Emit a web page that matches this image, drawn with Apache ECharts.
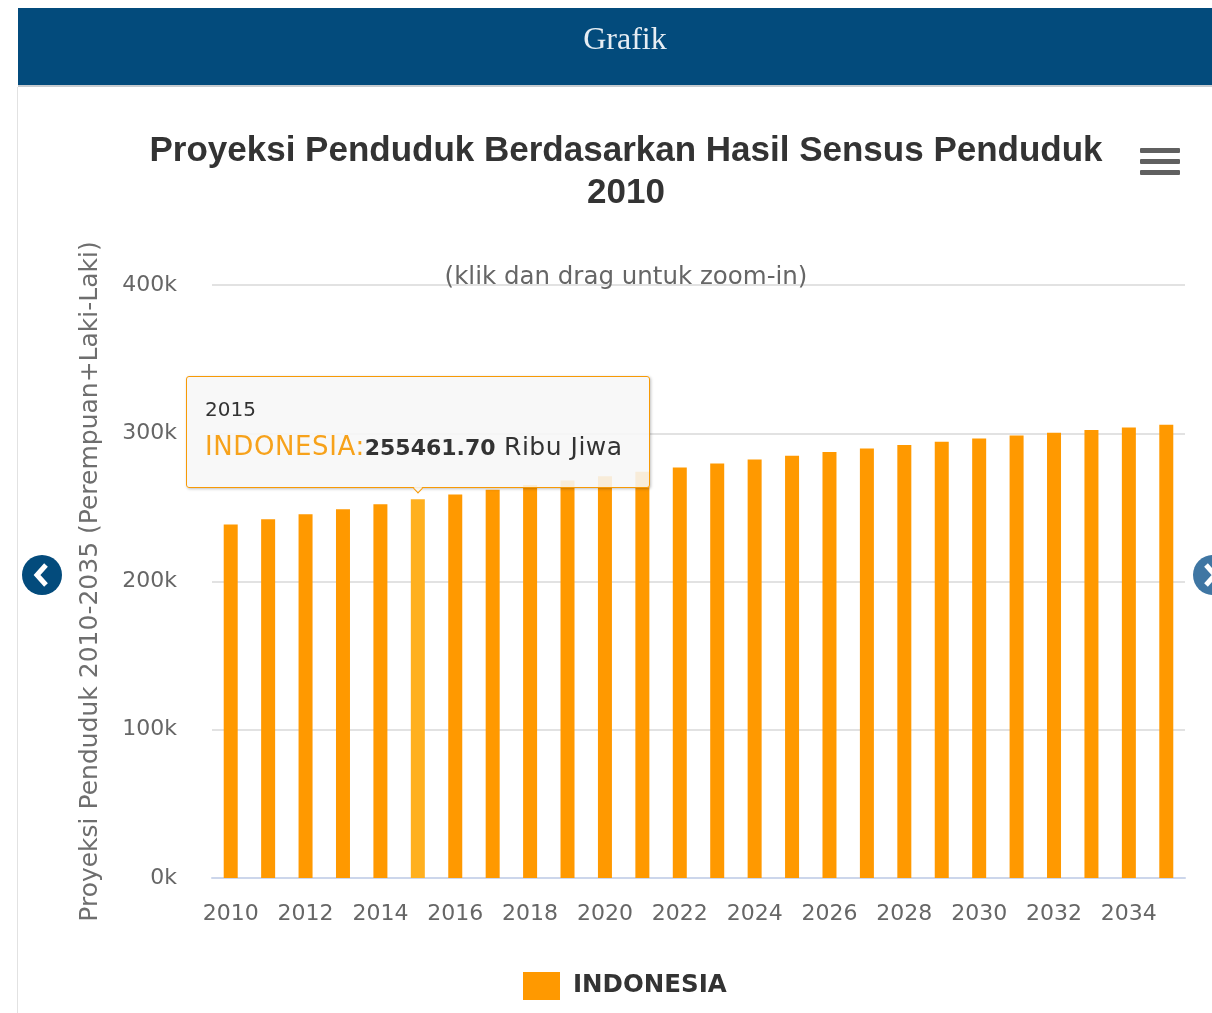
<!DOCTYPE html>
<html>
<head>
<meta charset="utf-8">
<script src="https://cdn.jsdelivr.net/npm/echarts@6/dist/echarts.min.js"></script>
<style>
html,body{margin:0;padding:0;background:#fff;}
#chart{width:1212px;height:1013px;position:relative;}
</style>
</head>
<body>
<div id="chart"></div>
<script>
var years = ['2010','2011','2012','2013','2014','2015','2016','2017','2018','2019','2020','2021','2022','2023','2024','2025','2026','2027','2028','2029','2030','2031','2032','2033','2034','2035'];
var indonesia = [238519,241991,245425,248818,252165,255461.70,258705,261891,265015,268075,271066,273984,276827,279591,282272,284829,287330,289733,292046,294276,296405,298425,300334,302138,303839,305652];
var yTicks = [0,100000,200000,300000,400000];
var seriesName = 'INDONESIA';
var unit = 'Ribu Jiwa';
var titleText = 'Proyeksi Penduduk Berdasarkan Hasil Sensus Penduduk\n2010';
var subtitleText = '(klik dan drag untuk zoom-in)';
var yName = 'Proyeksi Penduduk 2010-2035 (Perempuan+Laki-Laki)';
var headerText = 'Grafik';
var shownYear = '2015';

var chart = echarts.init(document.getElementById('chart'), null, {renderer:'canvas'});
var FONT = '"DejaVu Sans", sans-serif';
var option = {
  animation: false,
  backgroundColor: '#ffffff',
  title: [
    {text: titleText, left: 621, top: 125, textAlign: 'center',
     textStyle: {fontFamily: '"Liberation Sans", Arial, sans-serif', fontSize: 35, fontWeight: 'bold', color: '#333333', lineHeight: 42}},
    {text: subtitleText, left: 621, top: 260, textAlign: 'center',
     textStyle: {fontFamily: FONT, fontSize: 24.5, fontWeight: 'normal', color: '#666666'}}
  ],
  grid: {left: 212, right: 27, top: 285, bottom: 135, containLabel: false},
  legend: {
    data: [seriesName], left: 518, top: 967, icon: 'rect', itemWidth: 37, itemHeight: 28, itemGap: 10,
    textStyle: {fontFamily: FONT, fontSize: 24.5, fontWeight: 'bold', color: '#333333', padding: [0,0,0,8]}
  },
  tooltip: {
    trigger: 'item', triggerOn: 'none', alwaysShowContent: true, showDelay: 0, hideDelay: 0,
    transitionDuration: 0, position: 'top',
    backgroundColor: 'rgba(247,247,247,0.88)', borderColor: '#f79a06', borderWidth: 1.5, borderRadius: 3,
    padding: [18, 0, 17, 18],
    extraCssText: 'box-shadow:1px 1px 3px rgba(0,0,0,0.25);',
    formatter: function (p) {
      var v = p.value.toFixed(2);
      return '<div style="width:444px;font-family:DejaVu Sans,sans-serif;color:#333;">' +
        '<div style="font-size:20px;line-height:28px;">' + p.name + '</div>' +
        '<div style="line-height:40px;margin-top:3px;white-space:nowrap;">' +
        '<span style="color:#f7a21b;font-size:26px;letter-spacing:0.6px;">' + p.seriesName + ':</span>' +
        '<b style="font-size:22px;">' + v + '</b><span style="font-size:25px;letter-spacing:0.5px;"> ' + unit + '</span></div></div>';
    }
  },
  xAxis: {
    type: 'category', data: years, boundaryGap: true,
    axisLine: {lineStyle: {color: '#ccd6eb', width: 2}},
    axisTick: {alignWithLabel: true, interval: 1, length: 20, lineStyle: {color: '#ccd6eb', width: 1.5}},
    axisLabel: {interval: 1, margin: 25, fontFamily: FONT, fontSize: 22, color: '#666666'}
  },
  yAxis: {
    type: 'value', min: 0, max: 400000, interval: 100000,
    name: yName, nameLocation: 'middle', nameGap: 109, nameRotate: 90,
    nameTextStyle: {fontFamily: FONT, fontSize: 25, color: '#6e6e6e'},
    axisLine: {show: false}, axisTick: {show: false},
    axisLabel: {margin: 35, fontFamily: FONT, fontSize: 22, color: '#666666',
      formatter: function (v) { return (v / 1000) + 'k'; }},
    splitLine: {lineStyle: {color: '#d8d8d8', width: 1.5}}
  },
  series: [{
    name: seriesName, type: 'bar', data: indonesia, barWidth: 14,
    itemStyle: {color: '#ff9900'},
    emphasis: {itemStyle: {color: '#ffb01f'}}
  }],
  graphic: [
    {type: 'rect', shape: {x: 18, y: 8, width: 1194, height: 77}, style: {fill: '#034b7c'}, z: 100},
    {type: 'rect', shape: {x: 18, y: 85, width: 1194, height: 2}, style: {fill: '#c8ccd0'}, z: 100},
    {type: 'rect', shape: {x: 17, y: 87, width: 1, height: 926}, style: {fill: '#e2e2e2'}, z: 100},
    {type: 'text', x: 625, y: 41, style: {text: headerText, font: '32px "Liberation Serif", serif', fill: '#e6edf3',
      align: 'center', verticalAlign: 'middle', textAlign: 'center', textVerticalAlign: 'middle'}, z: 101},
    {type: 'rect', shape: {x: 1140, y: 148, width: 40, height: 5, r: 1}, style: {fill: '#606060'}, z: 100},
    {type: 'rect', shape: {x: 1140, y: 159, width: 40, height: 5, r: 1}, style: {fill: '#606060'}, z: 100},
    {type: 'rect', shape: {x: 1140, y: 170, width: 40, height: 5, r: 1}, style: {fill: '#606060'}, z: 100},
    {type: 'circle', shape: {cx: 42, cy: 575, r: 20}, style: {fill: '#034b7c'}, z: 100},
    {type: 'polyline', shape: {points: [[46, 565], [37, 575], [46, 585]]}, style: {stroke: '#ffffff', lineWidth: 5, fill: null, lineJoin: 'miter'}, z: 101},
    {type: 'circle', shape: {cx: 1213, cy: 575, r: 20}, style: {fill: '#3f76a3'}, z: 100},
    {type: 'polyline', shape: {points: [[1206, 565], [1215, 575], [1206, 585]]}, style: {stroke: '#ffffff', lineWidth: 5, fill: null}, z: 101}
  ]
};
chart.setOption(option);
var idx = years.indexOf(shownYear);
chart.dispatchAction({type: 'highlight', seriesIndex: 0, dataIndex: idx});
chart.dispatchAction({type: 'showTip', seriesIndex: 0, dataIndex: idx});
</script>
</body>
</html>
